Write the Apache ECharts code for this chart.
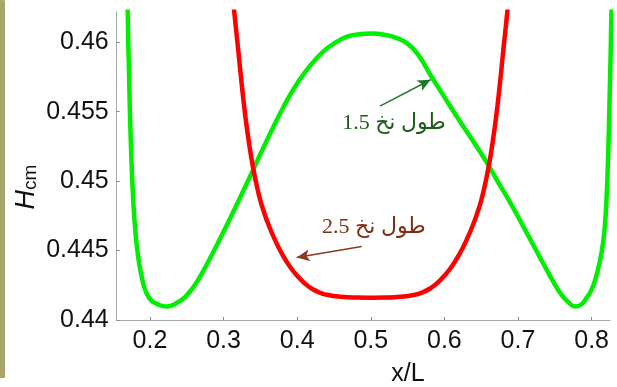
<!DOCTYPE html>
<html><head><meta charset="utf-8">
<script src="https://cdn.jsdelivr.net/npm/echarts@6/dist/echarts.min.js"></script>
<style>html,body{margin:0;padding:0;background:#fff}#c{width:617px;height:387px}</style>
</head><body><div id="c"></div>
<script>
const xTicks = [0.2, 0.3, 0.4, 0.5, 0.6, 0.7, 0.8];
const yTicks = [0.44, 0.445, 0.45, 0.455, 0.46];

const greenX = [0.1685, 0.1697, 0.1705, 0.1715, 0.1725, 0.1738, 0.1755, 0.1775, 0.1800, 0.1841, 0.1900, 0.1955, 0.2020, 0.2100, 0.2160, 0.2227, 0.2300, 0.2380, 0.2476, 0.2600, 0.2700, 0.2800, 0.2928, 0.3050, 0.3178, 0.3290, 0.3404, 0.3540, 0.3676, 0.3810, 0.3948, 0.4100, 0.4265, 0.4420, 0.4582, 0.4750, 0.5000,
  0.5200, 0.5351, 0.5500, 0.5650, 0.5804, 0.6000, 0.6212, 0.6400, 0.6574, 0.6750, 0.6900, 0.7050, 0.7231, 0.7370, 0.7503, 0.7600, 0.7700, 0.7774, 0.7850, 0.7920, 0.8001, 0.8070, 0.8137, 0.8180, 0.8205, 0.8222, 0.8236, 0.8248, 0.8260, 0.8270, 0.8285];
const greenY = [0.4635, 0.4622, 0.4600, 0.4579, 0.4555, 0.4531, 0.4506, 0.4484, 0.4465, 0.4445, 0.4428, 0.4419, 0.4414, 0.44115, 0.44102, 0.44097, 0.44105, 0.44128, 0.44165, 0.44245, 0.44330, 0.44428, 0.44560, 0.44690, 0.44830, 0.44955, 0.45085, 0.45240, 0.45390, 0.45530, 0.45660, 0.45780, 0.45885, 0.45962, 0.46017, 0.46050, 0.46063,
  0.46053, 0.46030, 0.45990, 0.45905, 0.45770, 0.45605, 0.45430, 0.45280, 0.45135, 0.44975, 0.44840, 0.44695, 0.44517, 0.44380, 0.44253, 0.44175, 0.44120, 0.44097, 0.44108, 0.44150, 0.44220, 0.44330, 0.44490, 0.44680, 0.44900, 0.45140, 0.45400, 0.45680, 0.45950, 0.46220, 0.46400];

const redX = [0.3120, 0.3145, 0.3200, 0.3250, 0.3300, 0.3350, 0.3400, 0.3450, 0.3500, 0.3550, 0.3600, 0.3700, 0.3800, 0.3900, 0.4000, 0.4100, 0.4200, 0.4300, 0.4400, 0.4600, 0.4800, 0.5000,
  0.5200, 0.5400, 0.5600, 0.5700, 0.5800, 0.5900, 0.6000, 0.6100, 0.6200, 0.6300, 0.6400, 0.6450, 0.6500, 0.6550, 0.6600, 0.6650, 0.6700, 0.6750, 0.6800, 0.6855, 0.6880];
const redY = [0.4637, 0.4622, 0.4594, 0.4568, 0.4545, 0.4526, 0.4510, 0.4497, 0.4486, 0.44775, 0.4470, 0.44575, 0.4447, 0.44385, 0.44318, 0.44265, 0.44225, 0.44198, 0.44182, 0.44167, 0.44162, 0.44161,
  0.44162, 0.44167, 0.44182, 0.44198, 0.44225, 0.44265, 0.44318, 0.44385, 0.4447, 0.44575, 0.4470, 0.44775, 0.4486, 0.4497, 0.4510, 0.4526, 0.4545, 0.4568, 0.4594, 0.4622, 0.4637];

const labelGreen = '1.5 طول نخ';
const labelRed = '2.5 طول نخ';
const labelGreenPos = [0.5315, 0.4542];
const labelRedPos = [0.5043, 0.4467];
const arrowGreen = [[0.5125, 0.4554], [0.5813, 0.4573]];
const arrowRed = [[0.4876, 0.4453], [0.3993, 0.4445]];

const zip = (xs, ys) => xs.map((x, i) => [x, ys[i]]);
const axisColor = '#a8a8a8';
const labelFont = "'Liberation Sans', Arial, sans-serif";
const serifFont = "'Liberation Serif', 'DejaVu Sans', serif";

const chart = echarts.init(document.getElementById('c'));
chart.setOption({
  animation: false,
  backgroundColor: '#ffffff',
  grid: { left: 116.7, top: 11.7, right: 7, bottom: 67, containLabel: false },
  xAxis: {
    type: 'value', min: 0.1548, max: 0.825,
    axisLine: { show: true, onZero: false, lineStyle: { color: axisColor, width: 1 } },
    axisTick: { show: true, inside: true, length: 3, customValues: xTicks, lineStyle: { color: '#888' } },
    axisLabel: { customValues: xTicks, fontSize: 25, color: '#111', margin: 9, fontFamily: labelFont },
    splitLine: { show: false }
  },
  yAxis: {
    type: 'value', min: 0.44, max: 0.4622,
    axisLine: { show: true, onZero: false, lineStyle: { color: axisColor, width: 1 } },
    axisTick: { show: true, inside: true, length: 3, customValues: yTicks, lineStyle: { color: '#888' } },
    axisLabel: { customValues: yTicks, fontSize: 25, color: '#111', margin: 8, fontFamily: labelFont,
      formatter: v => String(+v.toFixed(3)) },
    splitLine: { show: false }
  },
  series: [
    {
      type: 'line', data: zip(greenX, greenY), showSymbol: false, smooth: true, clip: true, silent: true,
      lineStyle: { color: '#00ee00', width: 4.5, join: 'round', cap: 'round' },
      markLine: {
        silent: true, symbol: ['none', 'arrow'], symbolSize: [9, 13], animation: false,
        lineStyle: { color: '#1f7a2a', width: 1.5, type: 'solid' }, label: { show: false },
        data: [[{ coord: arrowGreen[0] }, { coord: arrowGreen[1] }]]
      },
      markPoint: {
        silent: true, animation: false,
        data: [{ coord: labelGreenPos, symbol: 'rect', symbolSize: 1, itemStyle: { color: 'rgba(0,0,0,0)' },
          label: { show: true, position: 'inside', formatter: labelGreen, color: '#1e5a1e', fontSize: 22, fontFamily: serifFont } }]
      }
    },
    {
      type: 'line', data: zip(redX, redY), showSymbol: false, smooth: true, clip: true, silent: true,
      lineStyle: { color: '#ff0000', width: 4.5, join: 'round', cap: 'round' },
      markLine: {
        silent: true, symbol: ['none', 'arrow'], symbolSize: [9, 13], animation: false,
        lineStyle: { color: '#8b3a1e', width: 1.5, type: 'solid' }, label: { show: false },
        data: [[{ coord: arrowRed[0] }, { coord: arrowRed[1] }]]
      },
      markPoint: {
        silent: true, animation: false,
        data: [{ coord: labelRedPos, symbol: 'rect', symbolSize: 1, itemStyle: { color: 'rgba(0,0,0,0)' },
          label: { show: true, position: 'inside', formatter: labelRed, color: '#7e2c14', fontSize: 22, fontFamily: serifFont } }]
      }
    }
  ],
  graphic: [
    { type: 'rect', shape: { x: -12, y: -6, width: 17, height: 384, r: [0, 9, 0, 0] }, style: { fill: '#a9a46b' }, silent: true },
    { type: 'text', x: 408, y: 374, silent: true,
      style: { text: 'x/L', fontSize: 25, fontFamily: labelFont, fill: '#111', align: 'center', verticalAlign: 'middle' } },
    { type: 'text', x: 25, y: 187, rotation: Math.PI / 2, silent: true,
      style: { text: '{h|H}{s|cm}', align: 'center', verticalAlign: 'middle',
        rich: {
          h: { fontSize: 27, fontStyle: 'italic', fontFamily: labelFont, fill: '#111', color: '#111', lineHeight: 30, verticalAlign: 'bottom' },
          s: { fontSize: 19, fontFamily: labelFont, fill: '#111', color: '#111', lineHeight: 19, verticalAlign: 'bottom' }
        } } }
  ]
});
</script></body></html>
